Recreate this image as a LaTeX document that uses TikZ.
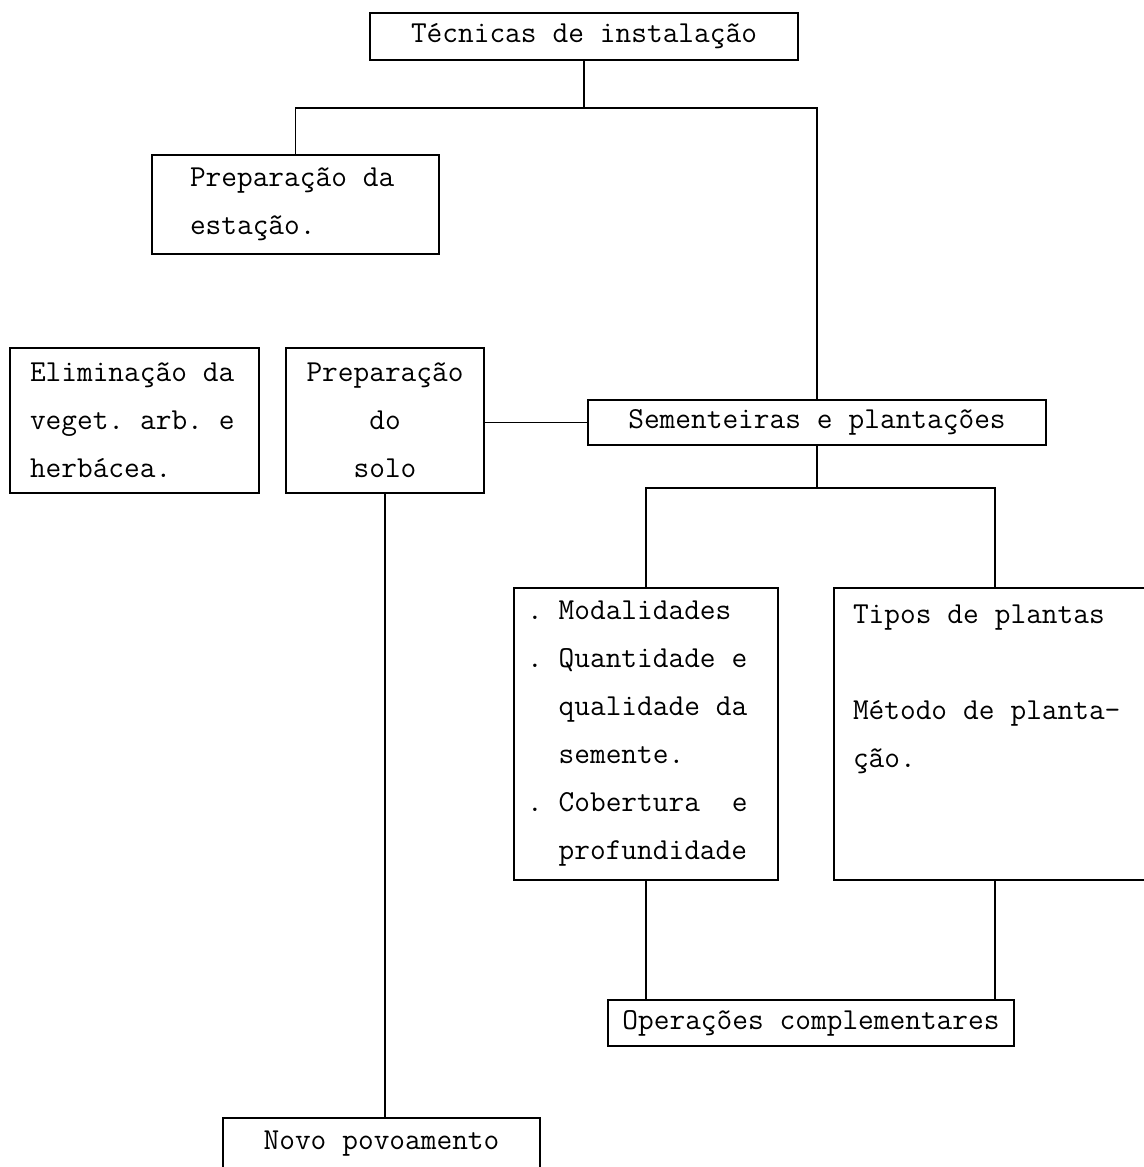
\documentclass[tikz,border=0pt]{standalone}
\usepackage{fontspec}
\newcommand\monospaces{\spaceskip=0.525em\relax\xspaceskip=0.525em\relax}
\begin{document}
\begin{tikzpicture}[x=0.5pt,y=-0.5pt,
  box/.style={draw, line width=0.8pt, inner sep=0pt, font={\ttfamily\fontsize{15.24pt}{24pt}\selectfont},
    execute at begin node=\monospaces},
  link/.style={line width=0.8pt}]
\useasboundingbox (0,0) rectangle (1144,1167);
% boxes (centres and sizes in px)
\node[box, minimum width=214pt, minimum height=23.5pt] (tec) at (584,36.5) {Técnicas de instalação};
\node[box, text width=105.5pt, inner xsep=19pt, minimum height=49.5pt, align=flush left] (est) at (295.5,204.5) {Preparação da\\estação.};
\node[box, text width=104.5pt, inner xsep=10pt, minimum height=72.5pt, align=flush left] (elim) at (134.5,420.5) {Eliminação da\\veget. arb. e\\herbácea.};
\node[box, minimum width=99pt, minimum height=72.5pt, align=center] (solo) at (385,420.5) {Preparação\\do\\solo};
\node[box, minimum width=229pt, minimum height=22.5pt] (sem) at (817,422.5) {Sementeiras e plantações};
\node[box, text width=119pt, inner xsep=6.5pt, minimum height=146pt, align=flush left] (mod) at (646,734)
  {.\ Modalidades\\.\ Quantidade e\\\hphantom{.\ }qualidade da\\\hphantom{.\ }semente.\\.\ Cobertura\ \ e\\\hphantom{.\ }profundidade};
\node[box, text width=142pt, inner xsep=9.5pt, minimum height=146pt, align=flush left] (tip) at (995,734)
  {Tipos de plantas\\\mbox{}\\Método de planta-\\ção.\\\mbox{}\\\mbox{}};
\node[box, minimum width=203pt, minimum height=23pt] (ope) at (811,1023) {Operações complementares};
\node[box, minimum width=158.5pt, minimum height=26pt] (novo) at (381.5,1144) {Novo povoamento};
% junctions
\coordinate (jt) at (584,108);
\coordinate (js) at (817,488);
% connectors
\draw[link] (tec.south) -- (jt);
\draw[link] (est.north) |- (jt -| sem.north) -- (sem.north);
\draw[link] (solo.east |- sem.west) -- (sem.west);
\draw[link] (sem.south) -- (js);
\draw[link] (mod.north) |- (js) -| (tip.north);
\draw[link] (mod.south) -- (mod.south |- ope.north);
\draw[link] (tip.south) -- (tip.south |- ope.north);
\draw[link] (solo.south) -- (solo.south |- novo.north);
\end{tikzpicture}
\end{document}
